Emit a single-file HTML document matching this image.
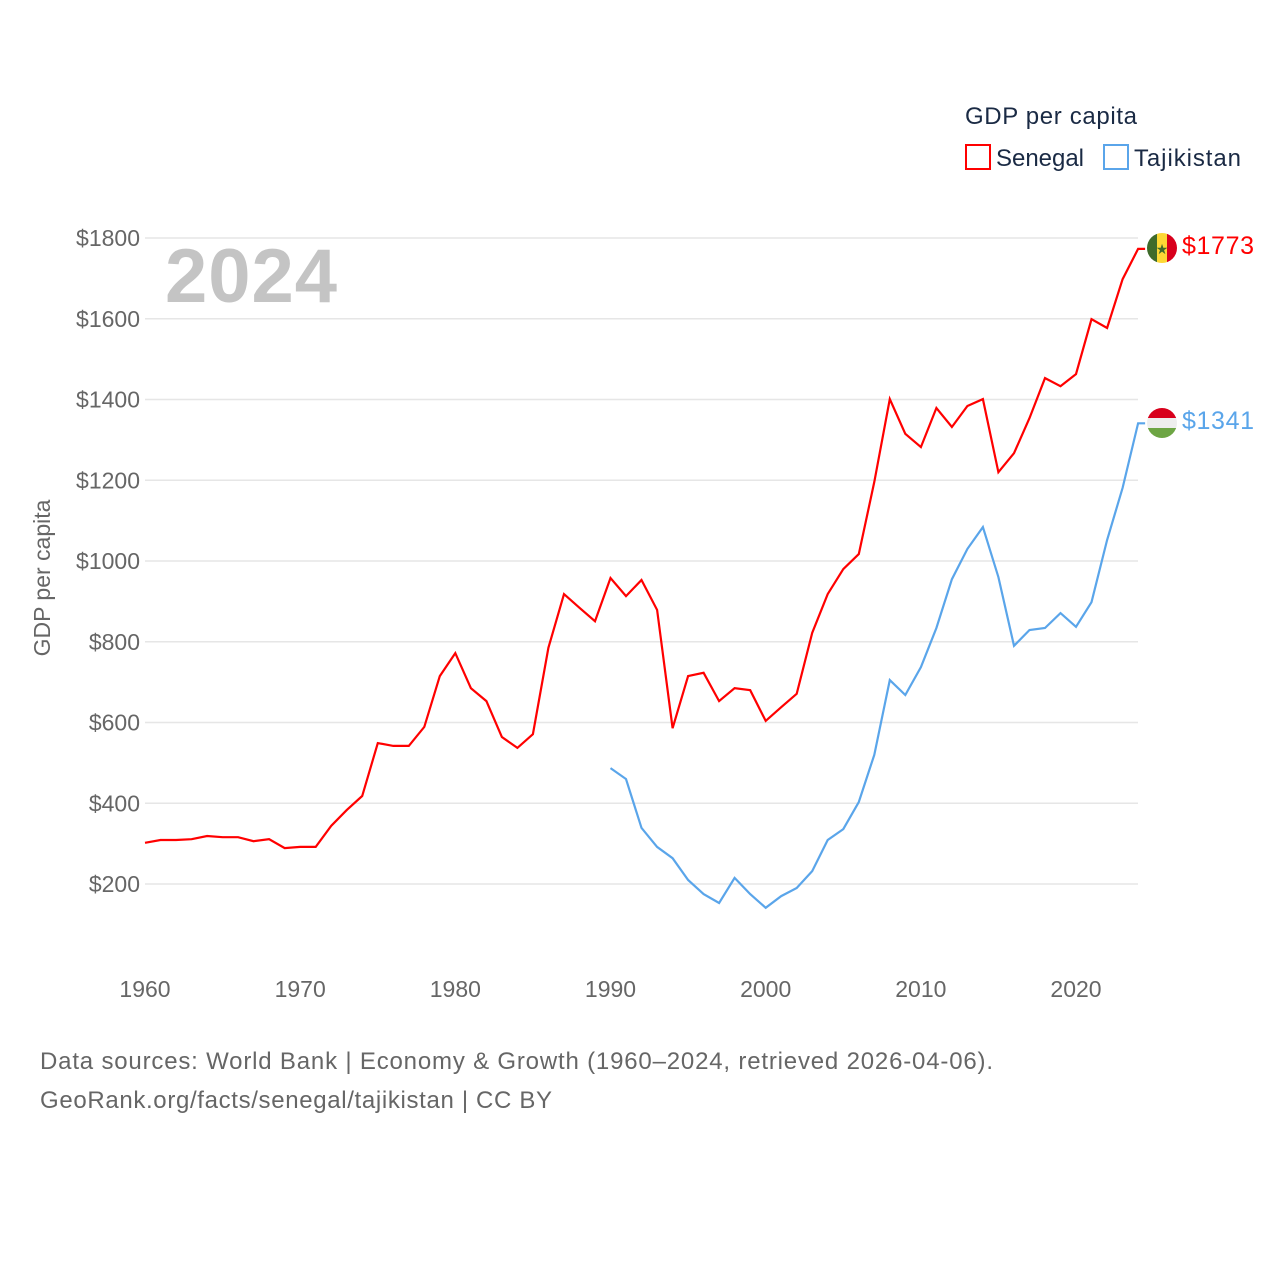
<!DOCTYPE html>
<html><head><meta charset="utf-8"><style>
body{margin:0;background:#fff;font-family:"Liberation Sans",sans-serif}
svg text{font-family:"Liberation Sans",sans-serif}
</style></head><body>
<svg width="1280" height="1280" xmlns="http://www.w3.org/2000/svg">
<g id="grid"></g>
<g id="yt"></g>
<g id="xt"></g>
<text x="165" y="302" font-size="76" font-weight="bold" fill="#c4c4c4" textLength="172">2024</text>
<text transform="translate(50,578) rotate(-90)" text-anchor="middle" font-size="23" fill="#666">GDP per capita</text>
<g id="lines"></g>
<g>
<text x="965" y="124" font-size="24" fill="#1a2a44" textLength="172">GDP per capita</text>
<g><rect x="966" y="145" width="24" height="24" fill="none" stroke="#f00" stroke-width="2"/><text x="996" y="166" font-size="24" fill="#1a2a44" textLength="88">Senegal</text></g>
<g><rect x="1104" y="145" width="24" height="24" fill="none" stroke="#5aa5ea" stroke-width="2"/><text x="1134" y="166" font-size="24" fill="#1a2a44" textLength="107">Tajikistan</text></g>
</g>
<g><clipPath id="c1"><circle cx="1162" cy="248" r="15"/></clipPath><g clip-path="url(#c1)"><rect x="1147" y="233" width="10" height="30" fill="#3f6b2a"/><rect x="1157" y="233" width="10" height="30" fill="#fdd835"/><rect x="1167" y="233" width="10" height="30" fill="#d8001c"/></g><text x="1162" y="254" font-size="14" text-anchor="middle" fill="#3f6b2a">★</text></g>
<g><clipPath id="c2"><circle cx="1162" cy="423" r="15"/></clipPath><g clip-path="url(#c2)"><rect x="1147" y="408" width="30" height="10" fill="#d8001c"/><rect x="1147" y="418" width="30" height="10" fill="#eee"/><rect x="1147" y="428" width="30" height="10" fill="#6da544"/></g></g>
<text x="1182" y="254" font-size="25" fill="#f00" textLength="72">$1773</text>
<text x="1182" y="429" font-size="25" fill="#5aa5ea" textLength="72">$1341</text>
<text x="40" y="1069" font-size="24" fill="#666" textLength="953">Data sources: World Bank | Economy &amp; Growth (1960–2024, retrieved 2026-04-06).</text>
<text x="40" y="1108" font-size="24" fill="#666" textLength="512">GeoRank.org/facts/senegal/tajikistan | CC BY</text>
</svg>
<script>
const senegalYears=[1960,1961,1962,1963,1964,1965,1966,1967,1968,1969,1970,1971,1972,1973,1974,1975,1976,1977,1978,1979,1980,1981,1982,1983,1984,1985,1986,1987,1988,1989,1990,1991,1992,1993,1994,1995,1996,1997,1998,1999,2000,2001,2002,2003,2004,2005,2006,2007,2008,2009,2010,2011,2012,2013,2014,2015,2016,2017,2018,2019,2020,2021,2022,2023,2024];
const senegalValues=[302,309,309,311,319,316,316,306,311,289,292,292,344,383,418,549,542,542,589,715,772,685,653,564,537,571,785,918,884,851,958,913,953,879,586,715,723,653,685,680,604,638,671,822,918,980,1017,1196,1401,1315,1282,1379,1332,1384,1401,1220,1267,1354,1453,1433,1463,1599,1577,1698,1773];
const tajikYears=[1990,1991,1992,1993,1994,1995,1996,1997,1998,1999,2000,2001,2002,2003,2004,2005,2006,2007,2008,2009,2010,2011,2012,2013,2014,2015,2016,2017,2018,2019,2020,2021,2022,2023,2024];
const tajikValues=[487,460,339,292,264,210,175,153,215,175,141,170,190,232,309,336,403,520,705,668,737,834,955,1030,1084,960,790,829,834,871,837,898,1052,1181,1341];
const yTicks=[200,400,600,800,1000,1200,1400,1600,1800];
const xTicks=[1960,1970,1980,1990,2000,2010,2020];
const NS='http://www.w3.org/2000/svg';
const xs=y=>145+(y-1960)*15.517;
const ys=v=>884-(v-200)*0.40375;
function mk(t,a,p){const e=document.createElementNS(NS,t);for(const k in a)e.setAttribute(k,a[k]);p.appendChild(e);return e;}
const grid=document.getElementById('grid'),yt=document.getElementById('yt'),xt=document.getElementById('xt'),lines=document.getElementById('lines');
yTicks.forEach(v=>{
 const l=mk('line',{x1:145,x2:1138,y1:ys(v),y2:ys(v),stroke:'#e6e6e6','stroke-width':1.5},grid);
 
 
 const t=mk('text',{x:140,y:ys(v)+8,'text-anchor':'end','font-size':23,fill:'#666'},yt);
 t.textContent='$'+v;
 
 
});
xTicks.forEach(y=>{
 const t=mk('text',{x:xs(y),y:997,'text-anchor':'middle','font-size':23,fill:'#666'},xt);
 t.textContent=y;
 
 
});
function line(yrs,vals,c,name){
 let d=yrs.map((y,i)=>(i?'L':'M')+xs(y).toFixed(1)+','+ys(vals[i]).toFixed(1)).join(' ');
 d+=' h7';
 const p=mk('path',{d:d,fill:'none',stroke:c,'stroke-width':2.2,'stroke-linejoin':'miter'},lines);
 
 
}
line(senegalYears,senegalValues,'#ff0000','senegal-line');
line(tajikYears,tajikValues,'#5aa5ea','tajikistan-line');
</script>
</body></html>
